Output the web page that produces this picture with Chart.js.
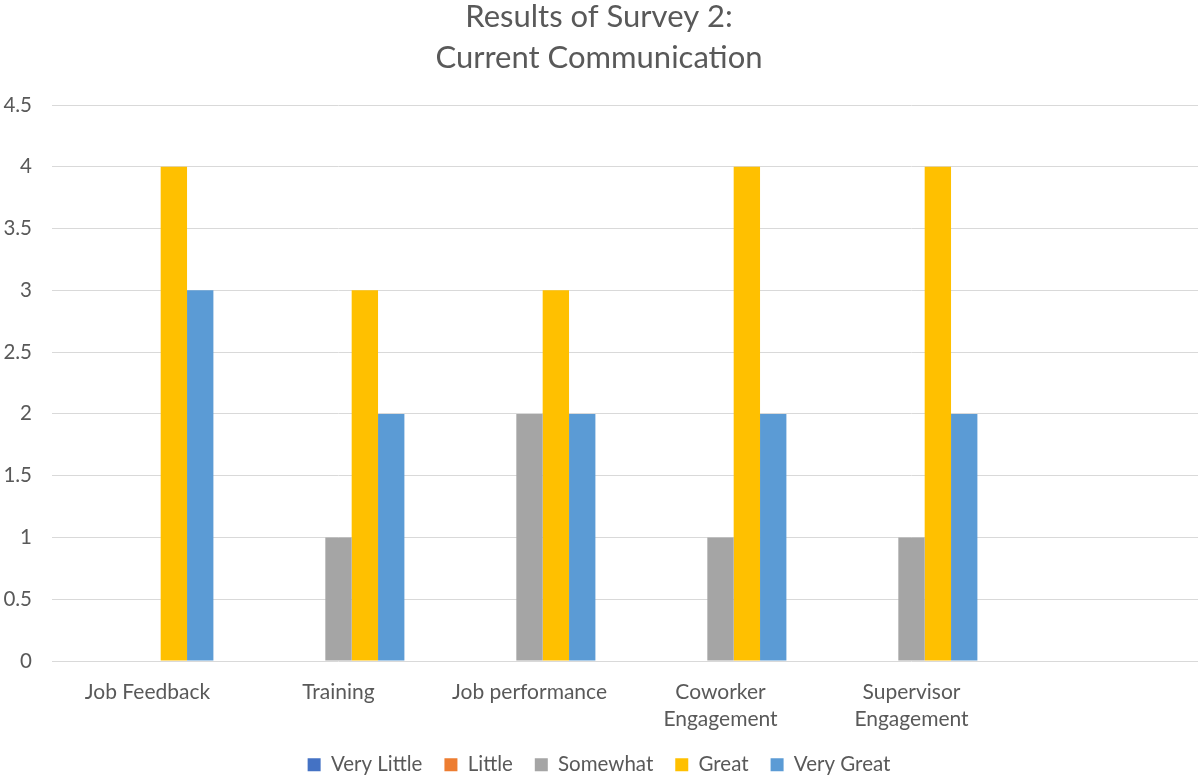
<!DOCTYPE html>
<html>
<head>
<meta charset="utf-8">
<title>Results of Survey 2: Current Communication</title>
<script src="https://cdn.jsdelivr.net/npm/chart.js@4/dist/chart.umd.min.js"></script>
<style>
  html, body { margin: 0; padding: 0; background: #ffffff; }
  #wrap { width: 1200px; height: 775px; }
</style>
</head>
<body>
<div id="wrap"><canvas id="chart" width="1200" height="775"></canvas></div>
<script>
// Survey topics (the trailing empty slot keeps the spare column on the right)
const categories = [
  'Job Feedback',
  'Training',
  'Job performance',
  ['Coworker', 'Engagement'],
  ['Supervisor', 'Engagement'],
  ''
];

// Number of responses per rating
const veryLittle = [0, 0, 0, 0, 0, null];
const little     = [0, 0, 0, 0, 0, null];
const somewhat   = [0, 1, 2, 1, 1, null];
const great      = [4, 3, 3, 4, 4, null];
const veryGreat  = [3, 2, 2, 2, 2, null];

const seriesNames = ['Very Little', 'Little', 'Somewhat', 'Great', 'Very Great'];
const seriesColors = ['#4472C4', '#ED7D31', '#A5A5A5', '#FFC000', '#5B9BD5'];
const seriesValues = [veryLittle, little, somewhat, great, veryGreat];

const titleLines = ['Results of Survey 2:', 'Current Communication'];

const textColor = '#595959';
const gridColor = '#D9D9D9';
const fontFamily = 'Lato, "Open Sans", sans-serif';

const canvasHeight = 775;
const bottomPad = -10;
const plotBottom = 661;

new Chart(document.getElementById('chart'), {
  type: 'bar',
  data: {
    labels: categories,
    datasets: seriesNames.map((name, i) => ({
      label: name,
      data: seriesValues[i],
      backgroundColor: seriesColors[i],
      borderWidth: 0,
      categoryPercentage: 0.69,
      barPercentage: 1.0
    }))
  },
  options: {
    responsive: false,
    animation: false,
    devicePixelRatio: 1,
    layout: { padding: { left: 0, right: 2, top: -4, bottom: bottomPad } },
    plugins: {
      title: {
        display: true,
        text: titleLines,
        color: textColor,
        font: { family: fontFamily, size: 31, weight: 'normal', lineHeight: 41 / 31 },
        padding: { top: 0, bottom: 27 }
      },
      legend: {
        display: true,
        position: 'bottom',
        labels: {
          color: textColor,
          font: { family: fontFamily, size: 20.5 },
          boxWidth: 13,
          boxHeight: 13,
          padding: 22
        }
      },
      tooltip: { enabled: false }
    },
    scales: {
      x: {
        grid: { display: false, drawTicks: false },
        border: { display: false },
        ticks: {
          color: textColor,
          font: { family: fontFamily, size: 21, lineHeight: 27 / 21 },
          padding: 18,
          maxRotation: 0,
          autoSkip: false
        },
        afterFit: (scale) => {
          scale.height = canvasHeight - bottomPad - scale.chart.legend.height - plotBottom;
        }
      },
      y: {
        min: 0,
        max: 4.5,
        grid: { color: gridColor, lineWidth: 1, drawTicks: false },
        border: { display: false },
        ticks: {
          stepSize: 0.5,
          color: textColor,
          font: { family: fontFamily, size: 20.5 },
          padding: 20,
          callback: (value) => String(value)
        },
        afterFit: (scale) => { scale.width = 52; }
      }
    }
  }
});
</script>
</body>
</html>
